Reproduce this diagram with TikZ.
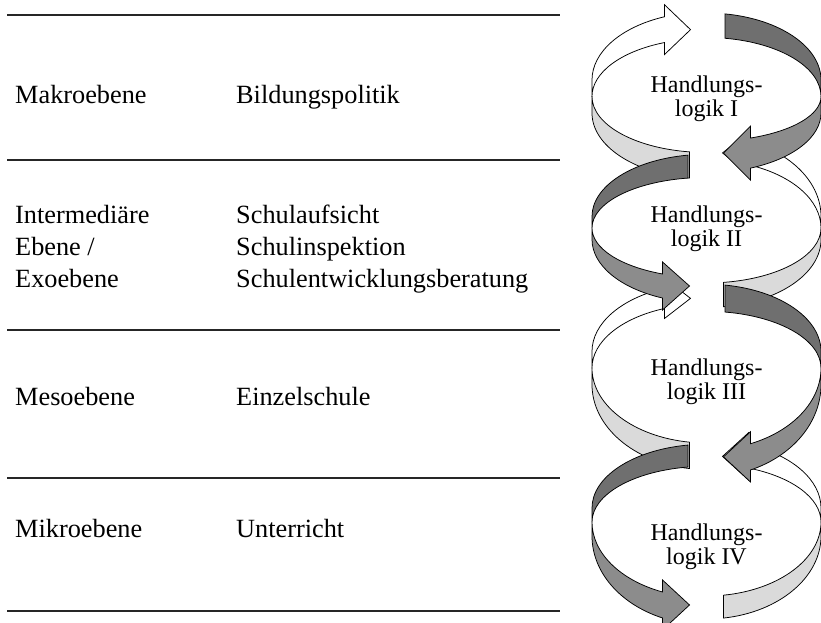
\documentclass[tikz,border=0pt]{standalone}
\usepackage{fontspec}
\setmainfont{Liberation Serif}
\definecolor{bandlight}{HTML}{DADADA}
\definecolor{banddark}{HTML}{6F6F6F}
\definecolor{bandmid}{HTML}{8C8C8C}
% ribbon geometry (local units, y up): half width, arrow head barb
\def\rgR{114.5}
\def\rgHb{12}
% twist half height and the vertical radii of the four bands
% (outer/inner of: white, light, dark, mid)
\newcommand\rgset[9]{\def\rgD{#1}\def\rgAW{#2}\def\rgBW{#3}\def\rgAL{#4}%
  \def\rgBL{#5}\def\rgAK{#6}\def\rgBK{#7}\def\rgAM{#8}\def\rgBM{#9}}
\newcommand\ringIgeom{\rgset{16.5}{68}{58}{65.8}{56}{67}{59}{59.7}{45}}
\newcommand\ringIIgeom{\rgset{11.5}{81}{68}{68}{55}{62.2}{50.6}{63.4}{49.8}}
\newcommand\ringIIIgeom{\rgset{16.5}{68}{64}{85}{75}{67.3}{56.7}{92.6}{82}}
\newcommand\ringIVgeom{\rgset{14}{68}{58}{83}{74}{63.8}{55.7}{88.8}{75.8}}
% back faces: white upper band with arrow head, light lower band
\newcommand\ringback[3]{%
  \begin{scope}[shift={(#1,-#2)},xscale=#3]
    \path[band,fill=white] (-\rgR,0) -- (-\rgR,\rgD)
      arc[start angle=180,end angle=\rgtH,x radius=\rgR,y radius=\rgAW]
      -- ++(0,\rgHb) -- (-16,{(\rgD+(\rgAW+\rgBW)*sin(\rgtH))/2})
      -- (-42,{\rgBW*sin(\rgtH)-\rgHb}) -- (-42,{\rgBW*sin(\rgtH)})
      arc[start angle=\rgtH,end angle=180,x radius=\rgR,y radius=\rgBW] -- cycle;
    \path[band,fill=bandlight] (-\rgR,0) -- (-\rgR,-\rgD)
      arc[start angle=180,end angle=\rgtL,x radius=\rgR,y radius=\rgAL]
      -- (-17,{\rgBL*sin(\rgtL)})
      arc[start angle=\rgtL,end angle=180,x radius=\rgR,y radius=\rgBL] -- cycle;
  \end{scope}}
% front faces: dark upper band, mid grey lower band with arrow head
\newcommand\ringfront[3]{%
  \begin{scope}[shift={(#1,-#2)},xscale=#3]
    \path[band,fill=banddark] (18.5,{\rgD+\rgAK*sin(\rgtR)})
      arc[start angle=\rgtR,end angle=0,x radius=\rgR,y radius=\rgAK]
      -- (\rgR,0)
      arc[start angle=0,end angle=\rgtR,x radius=\rgR,y radius=\rgBK] -- cycle;
    \path[band,fill=bandmid] (\rgR,0) -- (\rgR,-\rgD)
      arc[start angle=0,end angle=\rgtM,x radius=\rgR,y radius=\rgAM]
      -- ++(0,-12) -- (17,{(-\rgD+(\rgAM+\rgBM)*sin(\rgtM))/2})
      -- (44,{\rgBM*sin(\rgtM)+12}) -- (44,{\rgBM*sin(\rgtM)})
      arc[start angle=\rgtM,end angle=0,x radius=\rgR,y radius=\rgBM] -- cycle;
  \end{scope}}
\begin{document}
\begin{tikzpicture}[x=1pt,y=1pt,
    band/.style={draw=black,line width=0.75pt,line join=miter},
    rule/.style={draw=black!85,line width=1.5pt},
    lbl/.style={font=\fontsize{26.3}{32}\selectfont,anchor=base west,inner sep=0pt},
    ringlabel/.style={font=\fontsize{24}{24}\selectfont,align=center,inner sep=0pt}]
  \useasboundingbox (0,0) rectangle (821,-623);
  \pgfmathsetmacro\rgtH{acos(-42/\rgR)}
  \pgfmathsetmacro\rgtL{360-acos(-17/\rgR)}
  \pgfmathsetmacro\rgtR{acos(18.5/\rgR)}
  \pgfmathsetmacro\rgtM{-acos(44/\rgR)}

  % table rules
  \foreach \y/\n in {15/r0,160/r1,330/r2,478/r3,611/r4}
    \path[rule] (7,-\y) coordinate (\n a) -- (560,-\y) coordinate (\n b);

  % level names and actors
  \node[lbl] (makro) at (15,-103) {Makroebene};
  \node[lbl] (bild) at (236,-103) {Bildungspolitik};
  \node[lbl] (inter1) at (15,-223) {Intermediäre};
  \node[lbl] (inter2) at (15,-255) {Ebene /};
  \node[lbl] (inter3) at (15,-287) {Exoebene};
  \node[lbl] (sa) at (236,-223) {Schulaufsicht};
  \node[lbl] (si) at (236,-255) {Schulinspektion};
  \node[lbl] (seb) at (236,-287) {Schulentwicklungsberatung};
  \node[lbl] (meso) at (15,-405) {Mesoebene};
  \node[lbl] (einz) at (236,-405) {Einzelschule};
  \node[lbl] (mikro) at (15,-537) {Mikroebene};
  \node[lbl] (unt) at (236,-537) {Unterricht};

  % circular ribbons: back faces first, front faces on top
  \ringIgeom\ringback{706.5}{96.5}{1}
  {\def\rgHb{9}\ringIIgeom\ringback{706.5}{228}{-1}}
  {\def\rgHb{10}\ringIIIgeom\ringback{706.5}{368}{1}}
  \ringIVgeom\ringback{706.5}{522}{-1}
  \ringIgeom\ringfront{706.5}{96.5}{1}
  \ringIIgeom\ringfront{706.5}{228}{-1}
  \ringIIIgeom\ringfront{706.5}{368}{1}
  \ringIVgeom\ringfront{706.5}{522}{-1}

  \node[ringlabel] (h1) at (706.5,-98.5) {Handlungs-\\logik I};
  \node[ringlabel] (h2) at (706.5,-228.5) {Handlungs-\\logik II};
  \node[ringlabel] (h3) at (706.5,-381.5) {Handlungs-\\logik III};
  \node[ringlabel] (h4) at (706.5,-547) {Handlungs-\\logik IV};
\end{tikzpicture}
\end{document}
